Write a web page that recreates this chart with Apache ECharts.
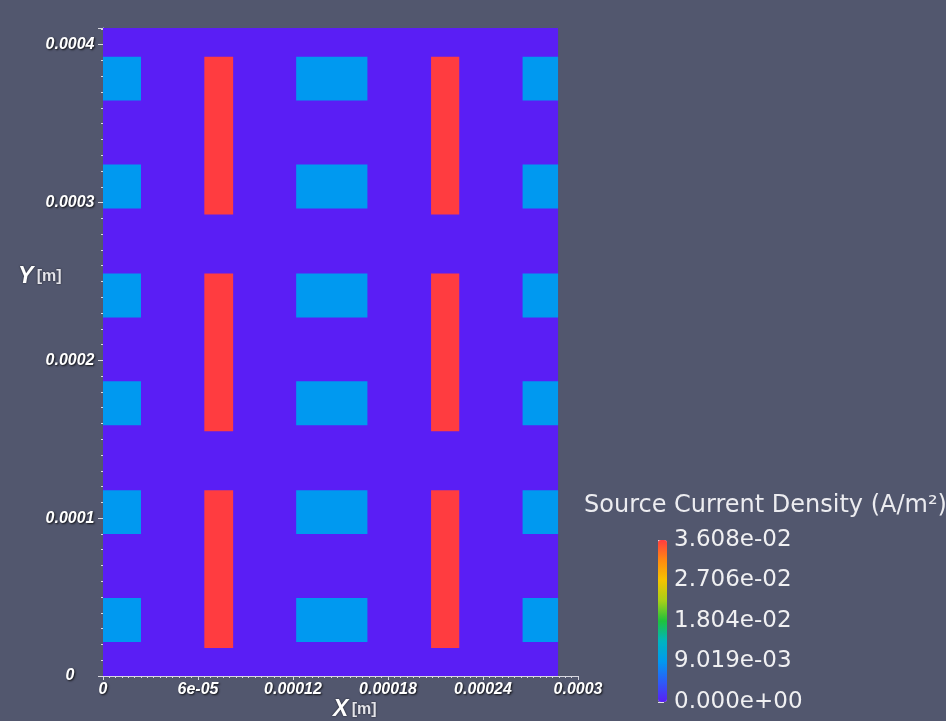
<!DOCTYPE html>
<html>
<head>
<meta charset="utf-8">
<title>Source Current Density</title>
<script src="https://cdn.jsdelivr.net/npm/echarts@6/dist/echarts.min.js"></script>
<style>
  html, body { margin: 0; padding: 0; background: #52576e; }
  #chart { width: 946px; height: 721px; }
</style>
</head>
<body>
<div id="chart"></div>
<script>
// geometry, in metres
const domainX = [0, 0.0002874]
const domainY = [0, 0.0004106]
const cyanCols = [[0, 0.000024], [0.000122, 0.000167], [0.000265, 0.0002874]]
const cyanRows = [
  [0.0000215, 0.0000494], [0.0000899, 0.0001177], [0.0001589, 0.0001867],
  [0.0002272, 0.0002551], [0.0002962, 0.0003241], [0.0003646, 0.0003924]
]
const redCols = [[0.0000640, 0.0000822], [0.0002072, 0.0002250]]
const redRows = [[0.0000177, 0.0001177], [0.0001551, 0.0002551], [0.0002924, 0.0003924]]

// source current density per region (A/m²)
const backgroundValue = 0
const cyanValue = 0.009019
const redValue = 0.036076

const xTickLabels = ['0', '6e-05', '0.00012', '0.00018', '0.00024', '0.0003']
const yTickLabels = ['0', '0.0001', '0.0002', '0.0003', '0.0004']
const colorTickLabels = ['0.000e+00', '9.019e-03', '1.804e-02', '2.706e-02', '3.608e-02']

const rainbow = ['#5a1ef5', '#2c5cf8', '#0099f0', '#00b4c0', '#1ec23c', '#a8d018', '#f4c400', '#ff8a10', '#ff3c40']

function rects(cols, rows, value) {
  let out = []
  cols.forEach(c => rows.forEach(r => out.push([c[0], c[1], r[0], r[1], value])))
  return out
}

const cells = [[domainX[0], domainX[1], domainY[0], domainY[1], backgroundValue]]
  .concat(rects(cyanCols, cyanRows, cyanValue))
  .concat(rects(redCols, redRows, redValue))

function pick(labels, step) {
  return function (v) {
    let i = Math.round(v / step)
    if (Math.abs(v - i * step) > step * 1e-3) return ''
    return labels[i] || ''
  }
}

const tickFont = {
  color: '#ffffff',
  fontFamily: 'Liberation Sans',
  fontStyle: 'italic',
  fontWeight: 'bold',
  fontSize: 16,
  textShadowColor: 'rgba(0,0,0,0.8)',
  textShadowBlur: 2,
  textShadowOffsetX: 1,
  textShadowOffsetY: 1
}

const nameRich = {
  a: { fontSize: 23, fontStyle: 'italic', fontWeight: 'bold', fontFamily: 'Liberation Sans', fill: '#ffffff', textShadowColor: 'rgba(0,0,0,0.7)', textShadowBlur: 2 },
  b: { fontSize: 16, fontWeight: 'bold', fontFamily: 'Liberation Sans', fill: '#e4e4ea', textShadowColor: 'rgba(0,0,0,0.7)', textShadowBlur: 2 }
}

let chart = echarts.init(document.getElementById('chart'), null, { renderer: 'canvas' })

let options = {
  backgroundColor: '#52576e',
  animation: false,
  title: {
    text: 'Source Current Density (A/m²)',
    left: 584,
    top: 494,
    padding: 0,
    textStyle: {
      color: '#ececf0',
      fontFamily: 'DejaVu Sans',
      fontWeight: 'normal',
      fontSize: 24
    }
  },
  grid: [
    { left: 103, right: 368, top: 28, bottom: 45 },
    { left: 658, width: 9, top: 540, height: 162 }
  ],
  xAxis: [
    {
      type: 'value',
      min: 0,
      max: 0.0003,
      interval: 0.00006,
      splitLine: { show: false },
      axisLine: { lineStyle: { color: '#d8d8e0', width: 1 } },
      axisTick: { length: 4, lineStyle: { color: '#d8d8e0' } },
      minorTick: { show: true, splitNumber: 15, length: 2, lineStyle: { color: '#d8d8e0' } },
      axisLabel: Object.assign({ margin: 6, formatter: pick(xTickLabels, 0.00006) }, tickFont)
    },
    { type: 'value', gridIndex: 1, show: false, min: 0, max: 1 }
  ],
  yAxis: [
    {
      type: 'value',
      min: 0,
      max: domainY[1],
      interval: 0.0001,
      splitLine: { show: false },
      axisLine: { lineStyle: { color: '#d8d8e0', width: 1 } },
      axisTick: { length: 5, lineStyle: { color: '#d8d8e0' } },
      minorTick: { show: true, splitNumber: 10, length: 2, lineStyle: { color: '#d8d8e0' } },
      axisLabel: Object.assign({ margin: 33, align: 'center', formatter: pick(yTickLabels, 0.0001) }, tickFont)
    },
    {
      type: 'value',
      gridIndex: 1,
      position: 'right',
      min: 0,
      max: redValue,
      interval: 0.009019,
      splitLine: { show: false },
      axisLine: { show: false },
      axisTick: { length: 6, lineStyle: { color: '#e0e0e6' } },
      minorTick: { show: true, splitNumber: 10, length: 4, lineStyle: { color: '#c8c8d0' } },
      axisLabel: {
        margin: 7,
        color: '#f0f0f2',
        fontFamily: 'DejaVu Sans',
        fontSize: 23,
        formatter: pick(colorTickLabels, 0.009019)
      }
    }
  ],
  visualMap: {
    type: 'continuous',
    min: 0,
    max: redValue,
    dimension: 4,
    seriesIndex: 0,
    calculable: false,
    hoverLink: false,
    orient: 'vertical',
    left: 658,
    top: 540,
    itemWidth: 9,
    itemHeight: 162,
    padding: 0,
    text: null,
    showLabel: false,
    inRange: { color: rainbow }
  },
  graphic: [
    {
      type: 'text',
      left: 333,
      top: 698,
      style: { text: '{a|X} {b|[m]}', rich: nameRich }
    },
    {
      type: 'text',
      left: 18,
      top: 265,
      style: { text: '{a|Y} {b|[m]}', rich: nameRich }
    }
  ],
  series: [
    {
      type: 'custom',
      xAxisIndex: 0,
      yAxisIndex: 0,
      encode: { x: [0, 1], y: [2, 3] },
      renderItem(params, api) {
        let p0 = api.coord([api.value(0), api.value(3)])
        let p1 = api.coord([api.value(1), api.value(2)])
        return {
          type: 'rect',
          shape: { x: p0[0], y: p0[1], width: p1[0] - p0[0], height: p1[1] - p0[1] },
          style: { fill: api.visual('color') }
        }
      },
      data: cells
    }
  ]
}

chart.setOption(options)
</script>
</body>
</html>
